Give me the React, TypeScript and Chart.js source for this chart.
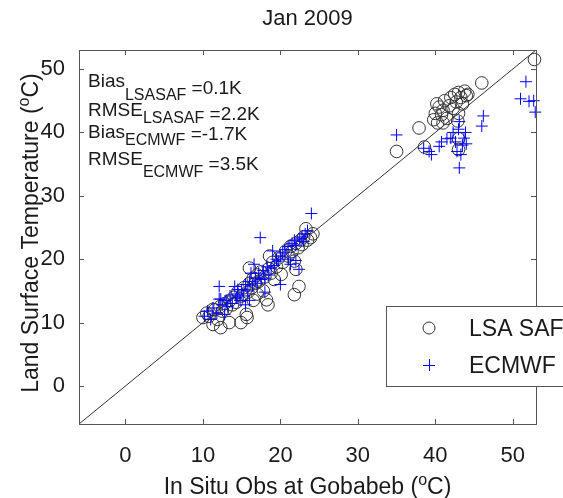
import React, { useEffect, useRef } from "react";
import { Chart, registerables } from "chart.js";

Chart.register(...registerables);

const FONT = "'Liberation Sans', Arial, Helvetica, sans-serif";

const TITLE = "Jan 2009";
const X_TITLE_PARTS = ["In Situ Obs at Gobabeb (", "o", "C)"];
const Y_TITLE_PARTS = ["Land Surface Temperature (", "o", "C)"];

const AXIS_MIN = -6;
const AXIS_MAX = 53;
const TICK_VALUES = [0, 10, 20, 30, 40, 50];

// LSA SAF (circles)
const lsaX = [
  10.0, 10.5, 10.8, 11.3, 11.5, 11.9, 12.2, 12.5, 12.8, 13.0, 13.4, 13.5, 13.8, 14.0, 14.3, 14.5,
  14.9, 15.0, 15.3, 15.6, 15.7, 15.8, 16.0, 16.0, 16.3, 16.5, 16.8, 17.0, 17.2, 17.5, 17.8, 18.0,
  18.2, 18.4, 18.6, 18.5, 18.8, 19.0, 19.2, 19.5, 19.8, 20.1, 20.3, 20.7, 21.0, 21.3, 21.5, 21.8,
  21.8, 22.0, 22.0, 22.3, 22.4, 22.6, 22.8, 23.0, 23.3, 23.5, 23.9, 24.2, 16.5, 17.0, 12.3, 11.3,
  35.0, 37.9, 38.6, 39.8, 40.0, 40.3, 40.5, 40.8, 41.0, 41.2, 41.5, 41.8, 42.0, 42.3, 42.5, 42.7,
  43.0, 43.0, 43.3, 43.5, 43.8, 44.0, 44.2, 42.9, 43.0, 43.0, 46.0, 52.8, 40.2, 41.0,
];
const lsaY = [
  10.8, 11.5, 11.0, 9.7, 12.0, 10.5, 12.5, 11.8, 13.0, 12.2, 10.0, 13.5, 12.8, 14.0, 13.2, 14.8,
  10.0, 14.2, 15.5, 11.3, 10.8, 14.8, 18.6, 16.2, 15.5, 17.0, 16.2, 17.5, 16.5, 18.0, 15.0, 17.2,
  13.6, 12.8, 20.5, 18.5, 17.8, 19.5, 16.8, 18.8, 20.2, 17.6, 19.5, 21.3, 20.5, 22.0, 21.2, 19.7,
  14.4, 18.4, 22.5, 21.8, 15.7, 23.0, 22.3, 23.5, 24.8, 23.0, 23.4, 24.0, 13.5, 14.5, 9.2, 12.1,
  37.0, 40.7, 37.7, 42.0, 43.0, 41.5, 44.0, 42.8, 43.5, 45.0, 42.2, 44.2, 45.5, 43.8, 46.0, 44.8,
  46.3, 43.0, 45.5, 44.5, 46.5, 45.8, 46.0, 41.8, 39.0, 37.3, 47.8, 51.5, 44.5, 41.5,
];

// ECMWF (plus markers)
const ecmX = [
  10.2, 10.6, 11.0, 11.3, 11.8, 12.1, 12.3, 12.5, 12.8, 13.0, 13.2, 13.5, 13.8, 14.1, 14.3, 14.5,
  14.8, 15.0, 15.2, 15.5, 15.8, 16.0, 16.2, 16.4, 16.6, 16.8, 17.0, 17.2, 17.4, 17.5, 17.8, 18.0,
  18.3, 18.5, 18.8, 19.0, 19.2, 19.5, 19.7, 20.0, 20.3, 20.6, 21.0, 21.3, 21.5, 21.8, 22.0, 22.4,
  22.5, 22.8, 23.0, 23.2, 23.5, 24.0, 16.0, 18.0, 20.0, 15.5, 22.0, 21.0, 12.1, 14.5,
  35.0, 38.5, 39.5, 39.2, 40.5, 40.8, 41.5, 42.0, 42.3, 42.6, 43.0, 43.1, 43.1, 43.3, 43.7, 43.9,
  44.0, 42.8, 46.2, 46.0, 51.7, 51.0, 52.1, 52.7, 52.9, 43.5,
];
const ecmY = [
  11.0, 11.8, 10.5, 12.3, 11.5, 15.7, 13.7, 12.8, 11.3, 13.5, 12.5, 14.2, 13.0, 15.7, 13.9, 14.5,
  13.5, 15.2, 14.2, 16.0, 15.0, 16.5, 17.8, 15.8, 19.2, 17.0, 16.2, 17.8, 23.4, 16.8, 18.2, 17.0,
  18.8, 17.5, 18.6, 21.3, 19.0, 20.0, 19.7, 20.5, 21.0, 21.5, 22.0, 19.2, 22.5, 23.0, 22.2, 18.4,
  23.2, 23.5, 22.8, 24.0, 24.5, 27.2, 13.5, 14.8, 16.0, 12.8, 19.8, 20.0, 13.7, 15.2,
  39.6, 37.5, 36.5, 37.0, 37.8, 38.5, 39.0, 39.1, 40.0, 38.5, 40.5, 41.7, 34.4, 36.5, 39.1, 40.0,
  38.2, 37.0, 42.6, 41.0, 48.0, 45.3, 44.9, 45.0, 43.2, 38.0,
];

const STAT_NAMES = ["Bias", "RMSE", "Bias", "RMSE"];
const STAT_SUBS = ["LSASAF", "LSASAF", "ECMWF", "ECMWF"];
const STAT_VALUES = ["=0.1K", "=2.2K", "=-1.7K", "=3.5K"];

const LEGEND_LABELS = ["LSA SAF", "ECMWF"];

const LINE_X = [AXIS_MIN, AXIS_MAX];

const toPts = (xs: number[], ys: number[]) => xs.map((x, i) => ({ x, y: ys[i] }));

function drawSupText(ctx: CanvasRenderingContext2D, parts: string[], size: number) {
  const supSize = Math.round(size * 0.7);
  ctx.font = `${size}px ${FONT}`;
  const w0 = ctx.measureText(parts[0]).width;
  const w2 = ctx.measureText(parts[2]).width;
  ctx.font = `${supSize}px ${FONT}`;
  const w1 = ctx.measureText(parts[1]).width;
  const total = w0 + w1 + w2;
  let x = -total / 2;
  ctx.textAlign = "left";
  ctx.textBaseline = "alphabetic";
  const base = size * 0.36;
  ctx.font = `${size}px ${FONT}`;
  ctx.fillText(parts[0], x, base);
  x += w0;
  ctx.font = `${supSize}px ${FONT}`;
  ctx.fillText(parts[1], x, base - size * 0.42);
  x += w1;
  ctx.font = `${size}px ${FONT}`;
  ctx.fillText(parts[2], x, base);
}

const decorPlugin = {
  id: "decor",
  afterDraw(chart: any) {
    const ctx: CanvasRenderingContext2D = chart.ctx;
    const { left, right, top, bottom } = chart.chartArea;
    const xs = chart.scales.x;
    const ys = chart.scales.y;
    ctx.save();

    // axes box
    ctx.strokeStyle = "#555";
    ctx.lineWidth = 1;
    ctx.strokeRect(Math.round(left) + 0.5, Math.round(top) + 0.5, Math.round(right - left), Math.round(bottom - top));

    // inward tick marks
    const tl = 5;
    ctx.beginPath();
    TICK_VALUES.forEach((v) => {
      const px = Math.round(xs.getPixelForValue(v)) + 0.5;
      ctx.moveTo(px, bottom);
      ctx.lineTo(px, bottom - tl);
      ctx.moveTo(px, top);
      ctx.lineTo(px, top + tl);
      const py = Math.round(ys.getPixelForValue(v)) + 0.5;
      ctx.moveTo(left, py);
      ctx.lineTo(left + tl, py);
      ctx.moveTo(right, py);
      ctx.lineTo(right - tl, py);
    });
    ctx.stroke();

    ctx.fillStyle = "#1a1a1a";
    // title
    ctx.font = `22px ${FONT}`;
    ctx.textAlign = "center";
    ctx.textBaseline = "middle";
    ctx.fillText(TITLE, (left + right) / 2, 19);

    // x title
    ctx.save();
    ctx.translate((left + right) / 2, 486);
    drawSupText(ctx, X_TITLE_PARTS, 23);
    ctx.restore();

    // y title
    ctx.save();
    ctx.translate(30, 233);
    ctx.rotate(-Math.PI / 2);
    drawSupText(ctx, Y_TITLE_PARTS, 23);
    ctx.restore();

    // stats annotation
    const mainSize = 19;
    const subSize = 16;
    const baseMain = [87, 116, 138, 165];
    const baseSub = [100, 122.5, 145, 176.5];
    const baseVal = [94, 120, 140, 170];
    ctx.textAlign = "left";
    ctx.textBaseline = "alphabetic";
    STAT_NAMES.forEach((name, i) => {
      let x = 88;
      ctx.font = `${mainSize}px ${FONT}`;
      ctx.fillText(name, x, baseMain[i]);
      x += ctx.measureText(name).width;
      ctx.font = `${subSize}px ${FONT}`;
      ctx.fillText(STAT_SUBS[i], x, baseSub[i]);
      x += ctx.measureText(STAT_SUBS[i]).width;
      ctx.font = `${mainSize}px ${FONT}`;
      x += ctx.measureText(" ").width;
      ctx.fillText(STAT_VALUES[i], x, baseVal[i]);
    });

    // legend
    const lx = 386.5;
    const ly = 306.5;
    ctx.fillStyle = "#fff";
    ctx.fillRect(lx, ly, 200, 80);
    ctx.strokeStyle = "#555";
    ctx.strokeRect(lx, ly, 200, 80);
    ctx.strokeStyle = "#333";
    ctx.beginPath();
    ctx.arc(429, 328, 6, 0, Math.PI * 2);
    ctx.stroke();
    ctx.strokeStyle = "#0000ff";
    ctx.beginPath();
    ctx.moveTo(423, 365.5);
    ctx.lineTo(435, 365.5);
    ctx.moveTo(429.5, 359);
    ctx.lineTo(429.5, 371);
    ctx.stroke();
    ctx.fillStyle = "#1a1a1a";
    ctx.font = `23px ${FONT}`;
    ctx.textAlign = "left";
    ctx.textBaseline = "alphabetic";
    ctx.fillText(LEGEND_LABELS[0], 469, 336);
    ctx.fillText(LEGEND_LABELS[1], 469, 373);

    ctx.restore();
  },
};

export default function App() {
  const ref = useRef<HTMLCanvasElement | null>(null);

  useEffect(() => {
    if (!ref.current) return;
    const tickFont = { family: FONT, size: 22 };
    const chart = new Chart(ref.current, {
      type: "scatter",
      data: {
        datasets: [
          {
            label: LEGEND_LABELS[1],
            data: toPts(ecmX, ecmY),
            pointStyle: "cross",
            pointRadius: 6,
            borderColor: "#0000ff",
            backgroundColor: "#0000ff",
            borderWidth: 1,
            clip: false,
          },
          {
            label: LEGEND_LABELS[0],
            data: toPts(lsaX, lsaY),
            pointStyle: "circle",
            pointRadius: 6.3,
            borderColor: "#333",
            backgroundColor: "rgba(0,0,0,0)",
            borderWidth: 1,
            clip: false,
          },
          {
            type: "line",
            label: "1:1",
            data: toPts(LINE_X, LINE_X),
            borderColor: "#333",
            borderWidth: 1,
            pointRadius: 0,
            showLine: true,
            fill: false,
          } as any,
        ],
      },
      options: {
        animation: false,
        responsive: false,
        maintainAspectRatio: false,
        devicePixelRatio: 1,
        layout: { padding: { top: 50, right: 27, left: 0, bottom: 0 } },
        plugins: {
          legend: { display: false },
          tooltip: { enabled: false },
          title: { display: false },
        },
        scales: {
          x: {
            type: "linear",
            min: AXIS_MIN,
            max: AXIS_MAX,
            afterBuildTicks: (s: any) => {
              s.ticks = TICK_VALUES.map((v) => ({ value: v }));
            },
            afterFit: (s: any) => {
              s.height = 74;
            },
            grid: { display: false, drawTicks: false },
            border: { display: false },
            ticks: { padding: 19, font: tickFont, color: "#1a1a1a", autoSkip: false, maxRotation: 0 },
          },
          y: {
            type: "linear",
            min: AXIS_MIN,
            max: AXIS_MAX,
            afterBuildTicks: (s: any) => {
              s.ticks = TICK_VALUES.map((v) => ({ value: v }));
            },
            afterFit: (s: any) => {
              s.width = 79;
            },
            grid: { display: false, drawTicks: false },
            border: { display: false },
            ticks: { padding: 14, font: tickFont, color: "#1a1a1a", autoSkip: false },
          },
        },
      } as any,
      plugins: [decorPlugin],
    });
    return () => chart.destroy();
  }, []);

  return (
    <div style={{ position: "absolute", left: 0, top: 0, width: 563, height: 498, background: "#fff" }}>
      <canvas ref={ref} width={563} height={498} style={{ display: "block" }} />
    </div>
  );
}
